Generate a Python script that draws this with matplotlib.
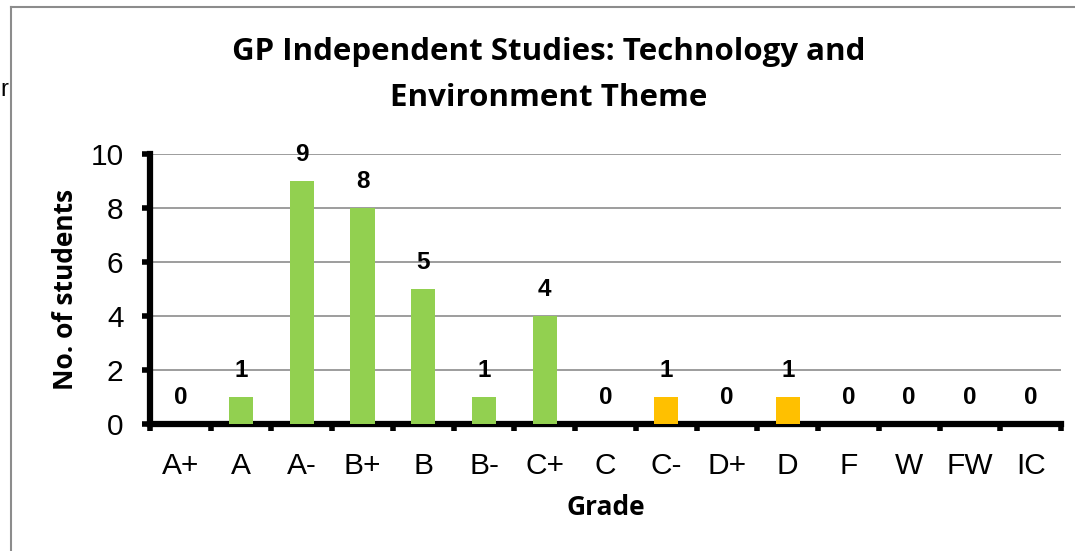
import matplotlib
matplotlib.use("Agg")
import matplotlib.pyplot as plt
from matplotlib.lines import Line2D
import numpy as np

categories = ["A+", "A", "A-", "B+", "B", "B-", "C+", "C", "C-", "D+", "D", "F", "W", "FW", "IC"]
counts = [0, 1, 9, 8, 5, 1, 4, 0, 1, 0, 1, 0, 0, 0, 0]
bar_colors = ["#92D050"] * 7 + ["#FFC000"] * 8

fig = plt.figure(figsize=(10.75, 5.51), dpi=100)
ax = fig.add_axes([150/1075, 1-424/551, (1061-150)/1075, (424-154)/551])

x = np.arange(len(categories))
ax.bar(x, counts, width=0.4, color=bar_colors, zorder=3)
for xi, v in zip(x, counts):
    ax.annotate(str(v), (xi, v), xytext=(0, 11), textcoords="offset points",
                ha="center", va="bottom", fontsize=17.5, fontweight="bold",
                family="Liberation Sans")

ax.set_xlim(-0.5, len(categories) - 0.5)
ax.set_ylim(0, 10)
ax.set_yticks([0, 2, 4, 6, 8, 10])
ax.yaxis.grid(True, color="#8c8c8c", linewidth=1.2, zorder=0)
ax.set_axisbelow(True)

ax.set_xticks(x)
ax.set_xticklabels(categories)
ax.set_xticks(np.arange(-0.5, len(categories), 1.0), minor=True)
ax.tick_params(axis="x", which="major", length=0, pad=20, labelsize=21.5)
ax.tick_params(axis="x", which="minor", length=5, width=4, direction="out", color="black")
ax.tick_params(axis="y", which="major", length=6, width=4, direction="out", pad=13, labelsize=21.5)
for lab in ax.get_xticklabels() + ax.get_yticklabels():
    lab.set_family("Liberation Sans")

for s in ["top", "right"]:
    ax.spines[s].set_visible(False)
ax.spines["left"].set_linewidth(4.5)
ax.spines["bottom"].set_linewidth(4.5)

ax.set_xlabel("Grade", fontsize=19, fontweight="bold", family="Open Sans", labelpad=10)
ax.set_ylabel("No. of students", fontsize=19, fontweight="bold", family="Open Sans", labelpad=8)

fig.text(549/1075, 1-52/551, "GP Independent Studies: Technology and", ha="center", va="center",
         fontsize=22.5, fontweight="bold", family="Open Sans")
fig.text(549/1075, 1-98/551, "Environment Theme", ha="center", va="center",
         fontsize=22.5, fontweight="bold", family="Open Sans")

fig.text(0/1075, 1-90/551, "r", ha="left", va="center", fontsize=17, family="Liberation Sans")

fig.add_artist(Line2D([11/1075, 11/1075], [0, 1-7/551], color="#8c8c8c", linewidth=1.5, transform=fig.transFigure))
fig.add_artist(Line2D([11/1075, 1], [1-7/551, 1-7/551], color="#8c8c8c", linewidth=1.5, transform=fig.transFigure))

fig.savefig("out.png", dpi=100)
